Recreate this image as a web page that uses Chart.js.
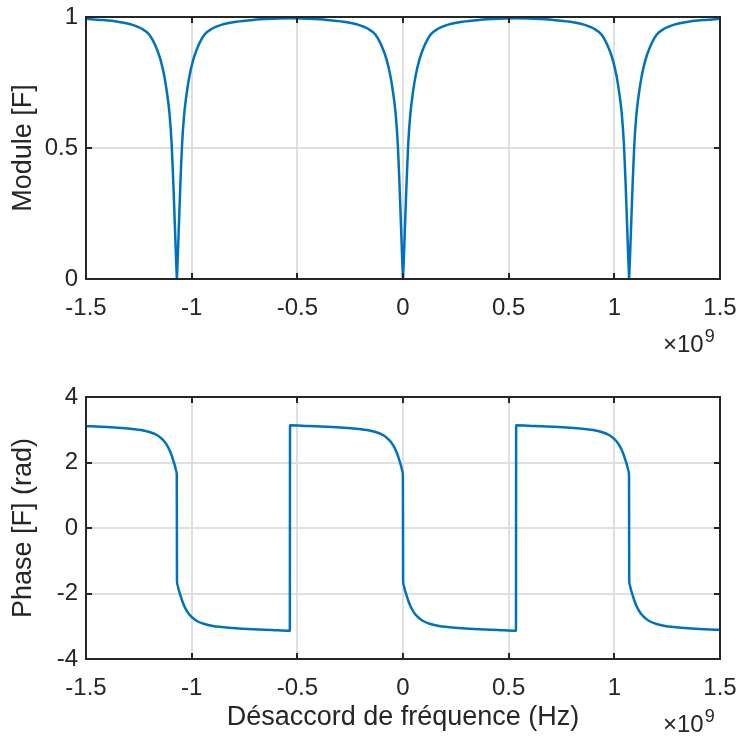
<!DOCTYPE html>
<html>
<head>
<meta charset="utf-8">
<script src="https://cdn.jsdelivr.net/npm/chart.js@4.4.0/dist/chart.umd.min.js"></script>
<style>
  html, body { margin: 0; padding: 0; background: #ffffff; }
  #page { position: relative; width: 740px; height: 737px; overflow: hidden; }
  .panel { position: absolute; left: 0; width: 740px; }
  .expo {
    position: absolute; font-family: "Liberation Sans", Arial, sans-serif;
    font-size: 24px; line-height: 24px; color: #262626; white-space: nowrap;
  }
  .expo .sup { position: relative; top: -10px; font-size: 18px; margin-left: 1px; }
</style>
</head>
<body>
<div id="page">
  <div class="panel" style="top:0;height:370px"><canvas id="module-chart" width="740" height="370"></canvas></div>
  <div class="panel" style="top:370px;height:367px"><canvas id="phase-chart" width="740" height="367"></canvas></div>
  <div class="expo" style="left:663px;top:332px">×10<span class="sup">9</span></div>
  <div class="expo" style="left:663px;top:712px">×10<span class="sup">9</span></div>
</div>
<script>
// frequency detuning, in units of 1e9 Hz (axis shows x10^9)
const freq = [
  -1.5, -1.43, -1.35, -1.28, -1.24, -1.2, -1.165, -1.148, -1.13, -1.117, -1.105, -1.095, -1.09, -1.086, -1.082, -1.078, -1.074, -1.0705, -1.07,
  -1.0695, -1.066, -1.062, -1.058, -1.054, -1.05, -1.045, -1.035, -1.023, -1.01, -0.992, -0.975, -0.94, -0.9, -0.86, -0.79, -0.71, -0.62, -0.5355, -0.5345,
  -0.45, -0.36, -0.28, -0.21, -0.17, -0.13, -0.095, -0.078, -0.06, -0.047, -0.035, -0.025, -0.02, -0.016, -0.012, -0.008, -0.004, -0.0005, 0,
  0.0005, 0.004, 0.008, 0.012, 0.016, 0.02, 0.025, 0.035, 0.047, 0.06, 0.078, 0.095, 0.13, 0.17, 0.21, 0.28, 0.36, 0.45, 0.5345, 0.5355,
  0.62, 0.71, 0.79, 0.86, 0.9, 0.94, 0.975, 0.992, 1.01, 1.023, 1.035, 1.045, 1.05, 1.054, 1.058, 1.062, 1.066, 1.0695, 1.07,
  1.0705, 1.074, 1.078, 1.082, 1.086, 1.09, 1.095, 1.105, 1.117, 1.13, 1.148, 1.165, 1.2, 1.24, 1.28, 1.35, 1.43, 1.5,
];

const moduleF = [
  0.993, 0.989, 0.982, 0.97, 0.957, 0.932, 0.878, 0.838, 0.777, 0.712, 0.632, 0.52, 0.43, 0.35, 0.26, 0.17, 0.08, 0.01, 0,
  0.01, 0.08, 0.17, 0.26, 0.35, 0.43, 0.52, 0.632, 0.712, 0.777, 0.838, 0.878, 0.932, 0.957, 0.97, 0.982, 0.989, 0.993, 0.995, 0.995,
  0.993, 0.989, 0.982, 0.97, 0.957, 0.932, 0.878, 0.838, 0.777, 0.712, 0.632, 0.52, 0.43, 0.35, 0.26, 0.17, 0.08, 0.01, 0,
  0.01, 0.08, 0.17, 0.26, 0.35, 0.43, 0.52, 0.632, 0.712, 0.777, 0.838, 0.878, 0.932, 0.957, 0.97, 0.982, 0.989, 0.993, 0.995, 0.995,
  0.993, 0.989, 0.982, 0.97, 0.957, 0.932, 0.878, 0.838, 0.777, 0.712, 0.632, 0.52, 0.43, 0.35, 0.26, 0.17, 0.08, 0.01, 0,
  0.01, 0.08, 0.17, 0.26, 0.35, 0.43, 0.52, 0.632, 0.712, 0.777, 0.838, 0.878, 0.932, 0.957, 0.97, 0.982, 0.989, 0.993,
];

const phaseF = [
  3.11, 3.09, 3.06, 3.02, 2.99, 2.93, 2.84, 2.76, 2.65, 2.53, 2.38, 2.22, 2.12, 2.04, 1.96, 1.87, 1.76, 1.62, 0,
  -1.62, -1.76, -1.87, -1.96, -2.04, -2.12, -2.22, -2.38, -2.53, -2.65, -2.76, -2.84, -2.93, -2.99, -3.02, -3.06, -3.09, -3.115, -3.14, 3.14,
  3.115, 3.09, 3.06, 3.02, 2.99, 2.93, 2.84, 2.76, 2.65, 2.53, 2.38, 2.22, 2.12, 2.04, 1.96, 1.87, 1.76, 1.62, 0,
  -1.62, -1.76, -1.87, -1.96, -2.04, -2.12, -2.22, -2.38, -2.53, -2.65, -2.76, -2.84, -2.93, -2.99, -3.02, -3.06, -3.09, -3.115, -3.14, 3.14,
  3.115, 3.09, 3.06, 3.02, 2.99, 2.93, 2.84, 2.76, 2.65, 2.53, 2.38, 2.22, 2.12, 2.04, 1.96, 1.87, 1.76, 1.62, 0,
  -1.62, -1.76, -1.87, -1.96, -2.04, -2.12, -2.22, -2.38, -2.53, -2.65, -2.76, -2.84, -2.93, -2.99, -3.02, -3.06, -3.09, -3.11,
];

const xTicks = [-1.5, -1, -0.5, 0, 0.5, 1, 1.5];

const LINE_COLOR = "#0072bd";
const AXIS_COLOR = "#262626";
const GRID_COLOR = "#dfdfdf";
const TICK_FONT = { family: "'Liberation Sans', Arial, sans-serif", size: 24 };
const LABEL_FONT = { family: "'Liberation Sans', Arial, sans-serif", size: 27, lineHeight: 1.2 };

Chart.defaults.font.family = TICK_FONT.family;
Chart.defaults.color = AXIS_COLOR;

// matlab style box with inward ticks on all four sides
const boxPlugin = {
  id: "matlabBox",
  afterDraw(chart) {
    const { ctx, chartArea: a, scales } = chart;
    const tl = 6;
    ctx.save();
    ctx.strokeStyle = AXIS_COLOR;
    ctx.lineWidth = 2;
    scales.x.ticks.forEach((t) => {
      const px = Math.round(scales.x.getPixelForValue(t.value));
      ctx.beginPath();
      ctx.moveTo(px, a.bottom);
      ctx.lineTo(px, a.bottom - tl);
      ctx.moveTo(px, a.top);
      ctx.lineTo(px, a.top + tl);
      ctx.stroke();
    });
    scales.y.ticks.forEach((t) => {
      const py = Math.round(scales.y.getPixelForValue(t.value));
      ctx.beginPath();
      ctx.moveTo(a.left, py);
      ctx.lineTo(a.left + tl, py);
      ctx.moveTo(a.right, py);
      ctx.lineTo(a.right - tl, py);
      ctx.stroke();
    });
    ctx.strokeRect(a.left, a.top, a.right - a.left, a.bottom - a.top);
    ctx.restore();
  },
};

function makeChart(canvasId, values, yMin, yMax, yStep, yTitle, xTitle, pad, xHeight) {
  const points = freq.map((f, i) => ({ x: f, y: values[i] }));
  return new Chart(document.getElementById(canvasId), {
    type: "line",
    data: {
      datasets: [
        {
          data: points,
          borderColor: LINE_COLOR,
          borderWidth: 2.5,
          pointRadius: 0,
          cubicInterpolationMode: "monotone",
          fill: false,
        },
      ],
    },
    options: {
      responsive: false,
      animation: false,
      devicePixelRatio: 1,
      layout: { padding: pad },
      plugins: { legend: { display: false }, tooltip: { enabled: false } },
      scales: {
        x: {
          type: "linear",
          min: -1.5,
          max: 1.5,
          afterBuildTicks: (s) => {
            s.ticks = xTicks.map((v) => ({ value: v }));
          },
          afterFit: (s) => {
            s.height = xHeight;
            s.paddingLeft = 0;
            s.paddingRight = 0;
          },
          ticks: {
            font: TICK_FONT,
            color: AXIS_COLOR,
            padding: 15,
            maxRotation: 0,
            callback: (v) => String(v),
          },
          grid: { color: GRID_COLOR, lineWidth: 2, drawTicks: false },
          border: { display: false },
          title: {
            display: !!xTitle,
            text: xTitle,
            font: LABEL_FONT,
            color: AXIS_COLOR,
            padding: { top: 0, bottom: 3 },
          },
        },
        y: {
          min: yMin,
          max: yMax,
          afterFit: (s) => {
            s.width = 86;
            s.paddingTop = 0;
            s.paddingBottom = 0;
          },
          ticks: {
            stepSize: yStep,
            font: TICK_FONT,
            color: AXIS_COLOR,
            padding: 8,
            callback: (v) => String(v),
          },
          grid: { color: GRID_COLOR, lineWidth: 2, drawTicks: false },
          border: { display: false },
          title: {
            display: true,
            text: yTitle,
            font: LABEL_FONT,
            color: AXIS_COLOR,
            padding: { top: 7, bottom: 0 },
          },
        },
      },
    },
    plugins: [boxPlugin],
  });
}

makeChart("module-chart", moduleF, 0, 1, 0.5, "Module [F]", "", { top: 17, right: 20, left: 0, bottom: 0 }, 91);
makeChart("phase-chart", phaseF, -4, 4, 2, "Phase [F] (rad)", "Désaccord de fréquence (Hz)", { top: 27, right: 20, left: 0, bottom: 0 }, 78);
</script>
</body>
</html>
